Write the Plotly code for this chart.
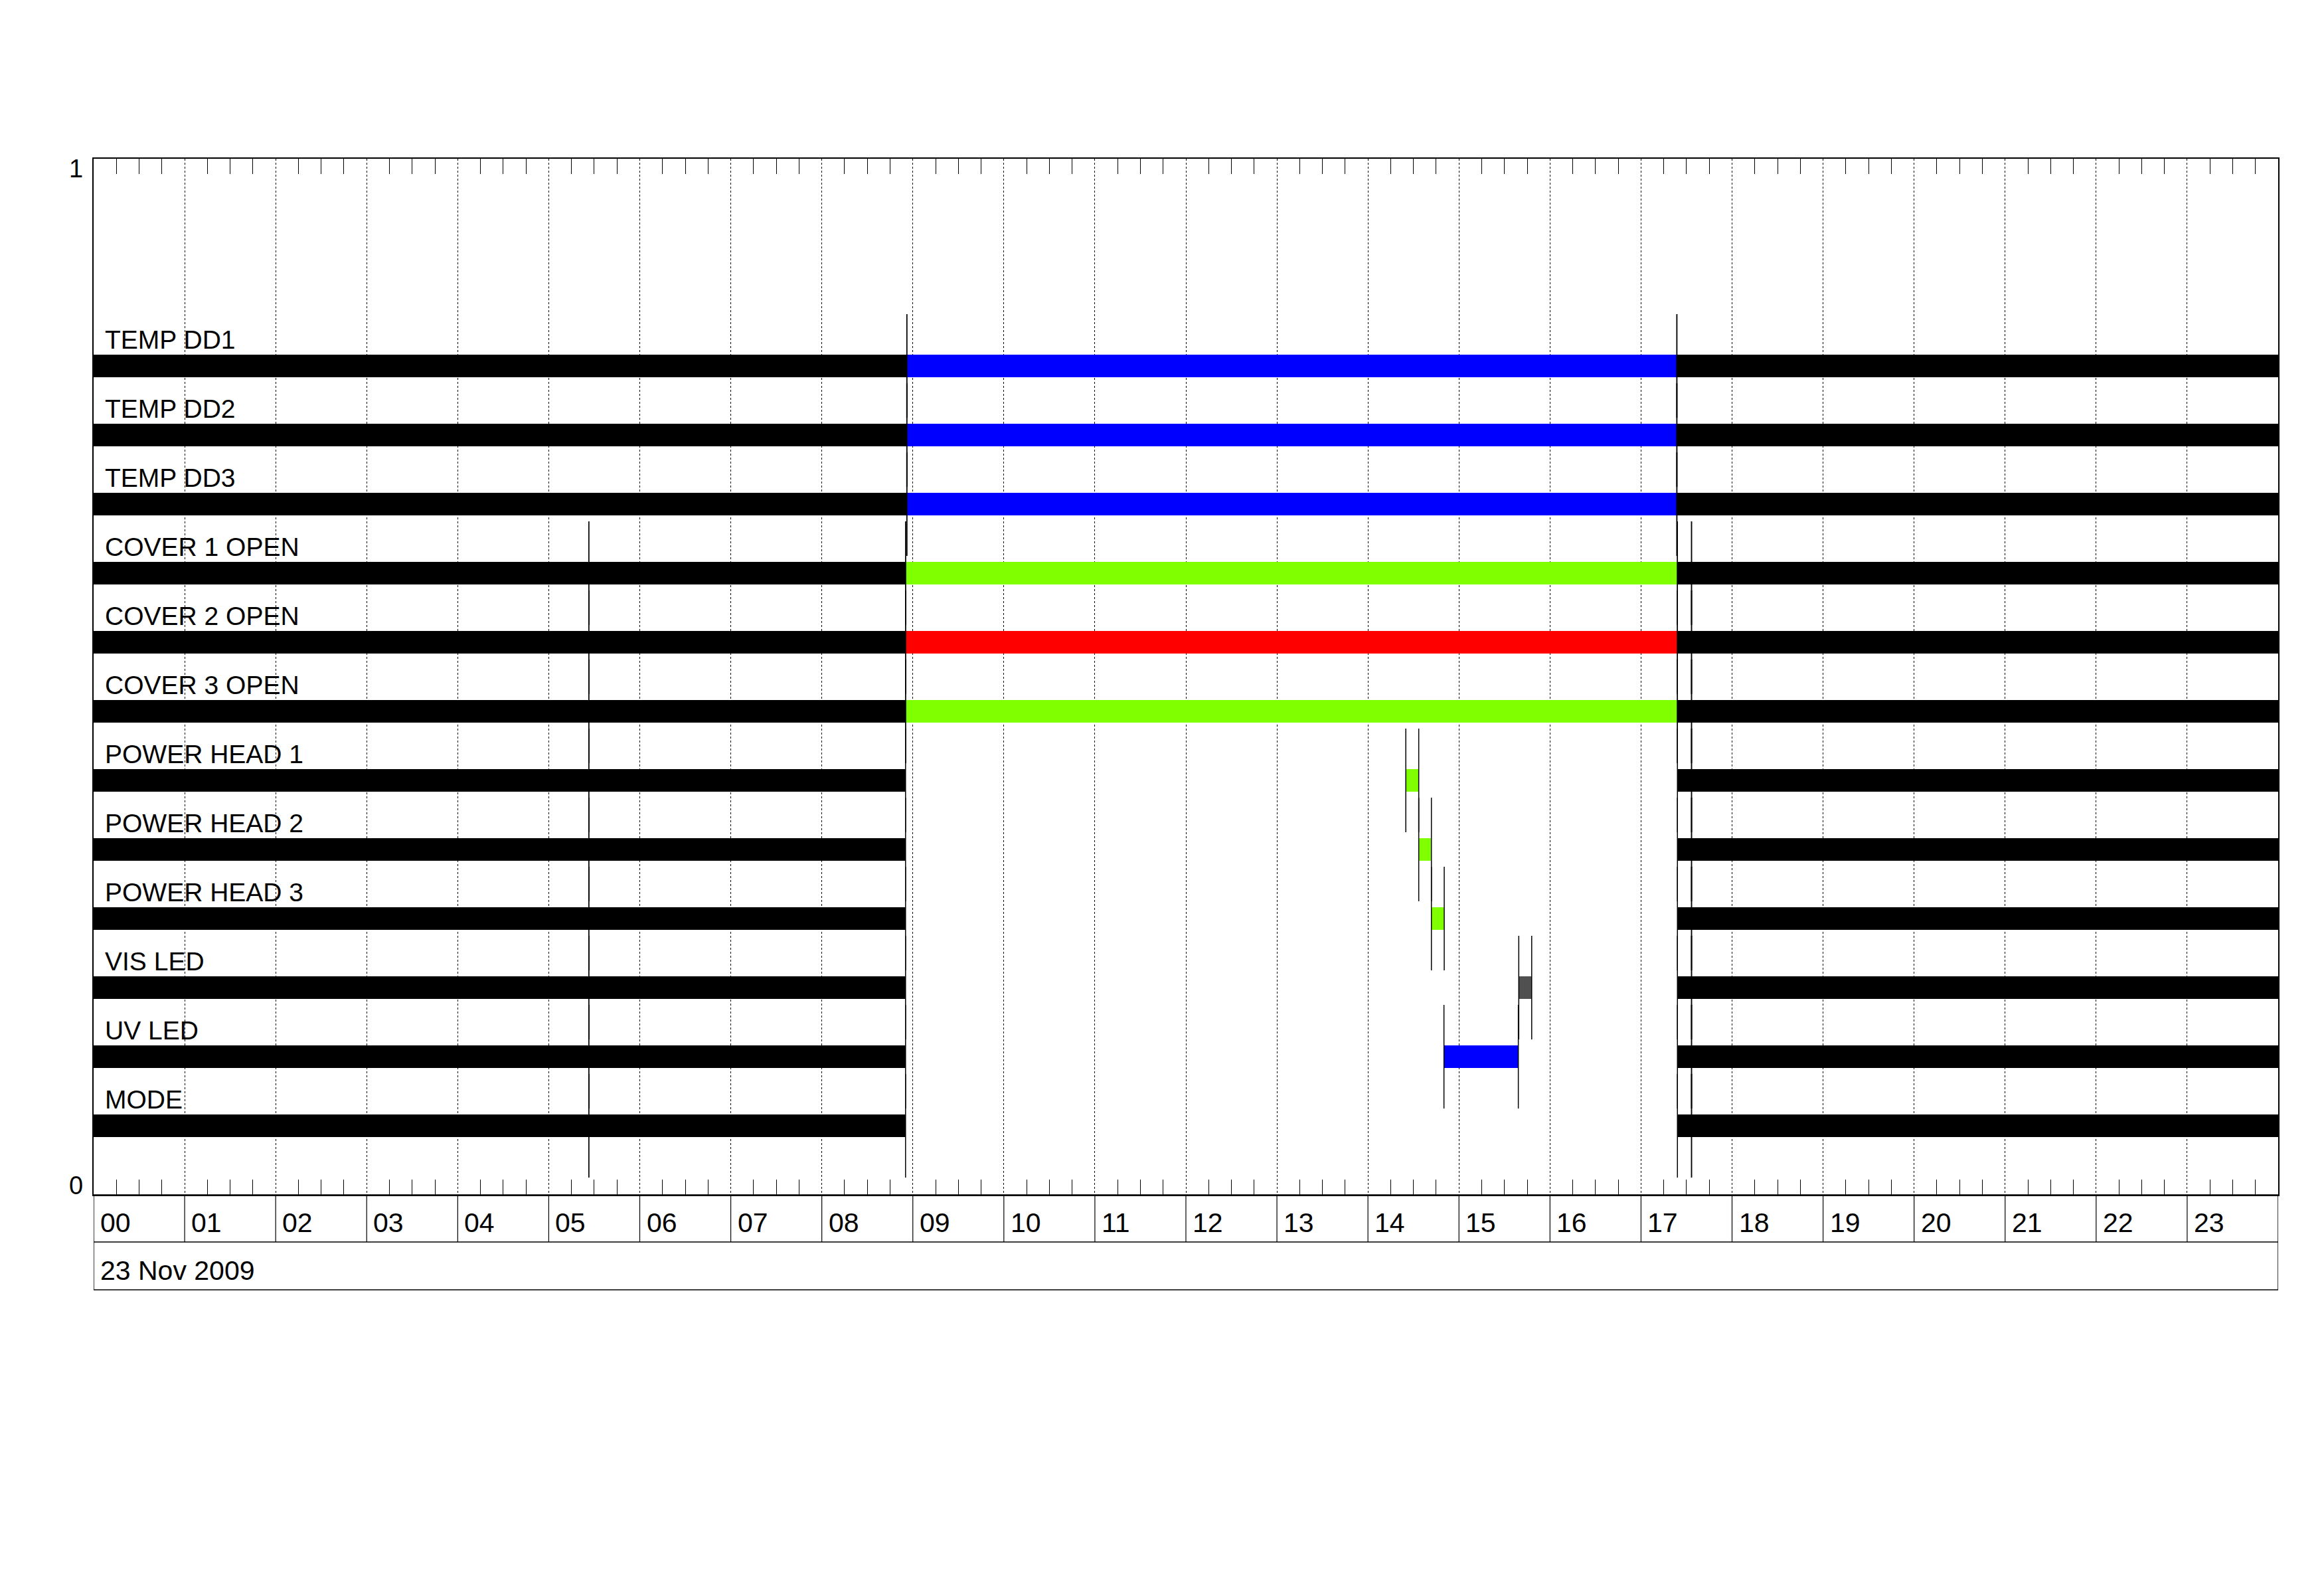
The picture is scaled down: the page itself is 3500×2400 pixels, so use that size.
import plotly.graph_objects as go

# ---------------- data ----------------
row_labels = ["TEMP DD1", "TEMP DD2", "TEMP DD3", "COVER 1 OPEN", "COVER 2 OPEN",
              "COVER 3 OPEN", "POWER HEAD 1", "POWER HEAD 2", "POWER HEAD 3",
              "VIS LED", "UV LED", "MODE"]

# state segments (hours of day): row index, start, end, state code
seg_row = [0, 0, 0,
           1, 1, 1,
           2, 2, 2,
           3, 3, 3, 3, 3,
           4, 4, 4, 4, 4,
           5, 5, 5, 5, 5,
           6, 6, 6, 6, 6,
           7, 7, 7, 7, 7,
           8, 8, 8, 8, 8,
           9, 9, 9, 9, 9,
           10, 10, 10, 10, 10,
           11, 11, 11, 11]
seg_start = [0.0, 8.934, 17.394,
             0.0, 8.934, 17.394,
             0.0, 8.934, 17.394,
             0.0, 5.44, 8.92, 17.40, 17.555,
             0.0, 5.44, 8.92, 17.40, 17.555,
             0.0, 5.44, 8.92, 17.40, 17.555,
             0.0, 5.44, 14.416, 17.40, 17.555,
             0.0, 5.44, 14.558, 17.40, 17.555,
             0.0, 5.44, 14.697, 17.40, 17.555,
             0.0, 5.44, 15.657, 17.40, 17.555,
             0.0, 5.44, 14.835, 17.40, 17.555,
             0.0, 5.44, 17.40, 17.555]
seg_end = [8.934, 17.394, 24.0,
           8.934, 17.394, 24.0,
           8.934, 17.394, 24.0,
           5.44, 8.92, 17.40, 17.555, 24.0,
           5.44, 8.92, 17.40, 17.555, 24.0,
           5.44, 8.92, 17.40, 17.555, 24.0,
           5.44, 8.92, 14.558, 17.555, 24.0,
           5.44, 8.92, 14.697, 17.555, 24.0,
           5.44, 8.92, 14.838, 17.555, 24.0,
           5.44, 8.92, 15.799, 17.555, 24.0,
           5.44, 8.92, 15.652, 17.555, 24.0,
           5.44, 8.92, 17.555, 24.0]
seg_state = ["off", "temp", "off",
             "off", "temp", "off",
             "off", "temp", "off",
             "off", "off", "open", "off", "off",
             "off", "off", "closed", "off", "off",
             "off", "off", "open", "off", "off",
             "off", "off", "open", "off", "off",
             "off", "off", "open", "off", "off",
             "off", "off", "open", "off", "off",
             "off", "off", "vis", "off", "off",
             "off", "off", "temp", "off", "off",
             "off", "off", "off", "off"]

hour_labels = ["00", "01", "02", "03", "04", "05", "06", "07", "08", "09", "10", "11",
               "12", "13", "14", "15", "16", "17", "18", "19", "20", "21", "22", "23"]
date_label = "23 Nov 2009"
y_tick_labels = ["0", "1"]

# ---------------- styling ----------------
state_colors = {"off": "#000000", "temp": "#0000FF", "open": "#7FFF00",
                "closed": "#FF0000", "vis": "#505050"}
FONT = "Liberation Sans, Arial, sans-serif"
n_rows = len(row_labels)
row_step = 1.0 / 15.0
bar_thick = 0.0214
line_half = 0.05
W, H = 3500, 2400
ML, MR, MT, MB = 133, 77, 231, 609   # page body adds an 8px offset
plot_h = H - MT - MB
px = 1.0 / plot_h  # paper units per pixel (vertical)


def row_y(i):
    return (n_rows - i) * row_step


fig = go.Figure()

# state bars
fig.add_trace(go.Bar(
    orientation="h",
    y=[row_y(r) for r in seg_row],
    base=seg_start,
    x=[e - s for s, e in zip(seg_start, seg_end)],
    width=bar_thick,
    marker=dict(color=[state_colors[s] for s in seg_state], line=dict(width=0)),
    hoverinfo="skip",
    showlegend=False,
))

# transition markers at segment boundaries
lx, ly = [], []
for r, s, e in zip(seg_row, seg_start, seg_end):
    for b in (s, e):
        if 0 < b < 24:
            lx += [b, b, None]
            ly += [row_y(r) - line_half, row_y(r) + line_half, None]
fig.add_trace(go.Scatter(x=lx, y=ly, mode="lines",
                         line=dict(color="black", width=1.5),
                         hoverinfo="skip", showlegend=False))

annotations = []
# row labels
for i, lab in enumerate(row_labels):
    annotations.append(dict(x=0, y=row_y(i) + bar_thick / 2, xref="x", yref="y",
                            text=lab, showarrow=False, xanchor="left", yanchor="bottom",
                            xshift=15, yshift=-1,
                            font=dict(family=FONT, size=39, color="black")))
# hour labels
for h, lab in enumerate(hour_labels):
    annotations.append(dict(x=h, y=-42 * px, xref="x", yref="paper", text=lab,
                            showarrow=False, xanchor="left", yanchor="middle", xshift=8,
                            font=dict(family=FONT, size=41, color="black")))
annotations.append(dict(x=0, y=-114 * px, xref="x", yref="paper", text=date_label,
                        showarrow=False, xanchor="left", yanchor="middle", xshift=8,
                        font=dict(family=FONT, size=41, color="black")))
# y labels
annotations.append(dict(x=0, y=0, xref="paper", yref="paper", text=y_tick_labels[0],
                        showarrow=False, xanchor="right", yanchor="bottom",
                        xshift=-14, yshift=-9,
                        font=dict(family=FONT, size=38, color="black")))
annotations.append(dict(x=0, y=1, xref="paper", yref="paper", text=y_tick_labels[1],
                        showarrow=False, xanchor="right", yanchor="top",
                        xshift=-14, yshift=8,
                        font=dict(family=FONT, size=38, color="black")))

shapes = []
band1 = -71 * px
band2 = -143 * px
shapes.append(dict(type="rect", xref="x", yref="paper", x0=0, x1=24, y0=band2, y1=0,
                   line=dict(color="black", width=1.5)))
shapes.append(dict(type="line", xref="x", yref="paper", x0=0, x1=24, y0=band1, y1=band1,
                   line=dict(color="black", width=1.5)))
for h in range(1, 24):
    shapes.append(dict(type="line", xref="x", yref="paper", x0=h, x1=h, y0=band1, y1=0,
                       line=dict(color="black", width=1.2)))

fig.update_layout(
    width=W, height=H,
    margin=dict(l=ML, r=MR, t=MT, b=MB),
    paper_bgcolor="white", plot_bgcolor="white",
    barmode="overlay", bargap=0,
    showlegend=False,
    annotations=annotations,
    shapes=shapes,
    xaxis=dict(range=[0, 24], dtick=1, tick0=0, showticklabels=False, ticks="",
               showgrid=True, gridcolor="black", gridwidth=1, griddash="dot",
               zeroline=False, showline=True, linecolor="black", linewidth=1.5,
               mirror="ticks",
               minor=dict(dtick=0.25, ticks="inside", ticklen=23, tickcolor="black",
                          tickwidth=1.2, showgrid=False)),
    yaxis=dict(range=[0, 1], showticklabels=False, ticks="", showgrid=False,
               zeroline=False, showline=True, linecolor="black", linewidth=1.5,
               mirror=True),
)

fig.write_html("out.html")
